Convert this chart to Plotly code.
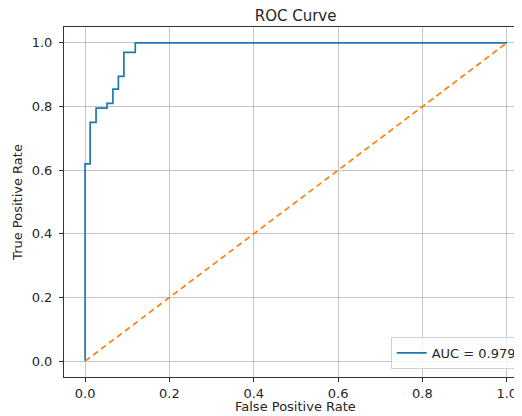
import plotly.graph_objects as go

fpr = [0.0, 0.0, 0.012, 0.012, 0.026, 0.026, 0.052, 0.052, 0.066, 0.066, 0.079, 0.079, 0.092, 0.092, 0.119, 0.119, 1.0]
tpr = [0.0, 0.62, 0.62, 0.75, 0.75, 0.795, 0.795, 0.81, 0.81, 0.855, 0.855, 0.895, 0.895, 0.97, 0.97, 1.0, 1.0]
diag_x = [0.0, 1.0]
diag_y = [0.0, 1.0]
auc_label = "AUC = 0.979"
tick_vals = [0.0, 0.2, 0.4, 0.6, 0.8, 1.0]
tick_text = ["0.0", "0.2", "0.4", "0.6", "0.8", "1.0"]

FONT = "DejaVu Sans"
TXT = "#262626"
fig = go.Figure()
fig.add_trace(go.Scatter(x=fpr, y=tpr, mode="lines", name=auc_label,
                         line=dict(color="#1f77b4", width=1.7)))
fig.add_trace(go.Scatter(x=diag_x, y=diag_y, mode="lines", showlegend=False,
                         line=dict(color="#ff7f0e", width=1.7, dash="6px,4px")))

axis_common = dict(
    showgrid=True, gridcolor="#c4c4c4", gridwidth=1,
    zeroline=False, showline=True, linecolor="#333333", linewidth=1,
    ticks="outside", ticklen=4, tickcolor="#333333", tickwidth=1,
    tickvals=tick_vals, ticktext=tick_text,
    tickfont=dict(family=FONT, size=13, color=TXT),
    automargin=False,
)

fig.update_layout(
    width=514, height=408,
    margin=dict(l=56, r=0, t=19, b=39),
    paper_bgcolor="white", plot_bgcolor="white",
    font=dict(family=FONT, size=13, color=TXT),
    title=dict(text="ROC Curve", font=dict(family=FONT, size=15, color=TXT),
               x=0.509, xref="paper", xanchor="center", y=1, yref="paper",
               yanchor="bottom", pad=dict(b=6)),
    xaxis=dict(range=[-0.05, 1.029], mirror=True, ticklabelstandoff=0,
               **axis_common),
    yaxis=dict(range=[-0.05, 1.05], mirror=False, ticklabelstandoff=4,
               title=dict(text="True Positive Rate", standoff=6,
                          font=dict(family=FONT, size=13, color=TXT)),
               **axis_common),
    legend=dict(x=0.718, y=0.023, xanchor="left", yanchor="bottom",
                bgcolor="rgba(255,255,255,0.8)", bordercolor="#d0d0d0", borderwidth=1,
                font=dict(family=FONT, size=13, color=TXT)),
    showlegend=True,
)

fig.add_annotation(text="False Positive Rate", xref="paper", yref="paper",
                   x=0.509, y=-0.0857, xanchor="center", yanchor="middle",
                   showarrow=False, font=dict(family=FONT, size=13, color=TXT))

fig.write_html("out.html")
